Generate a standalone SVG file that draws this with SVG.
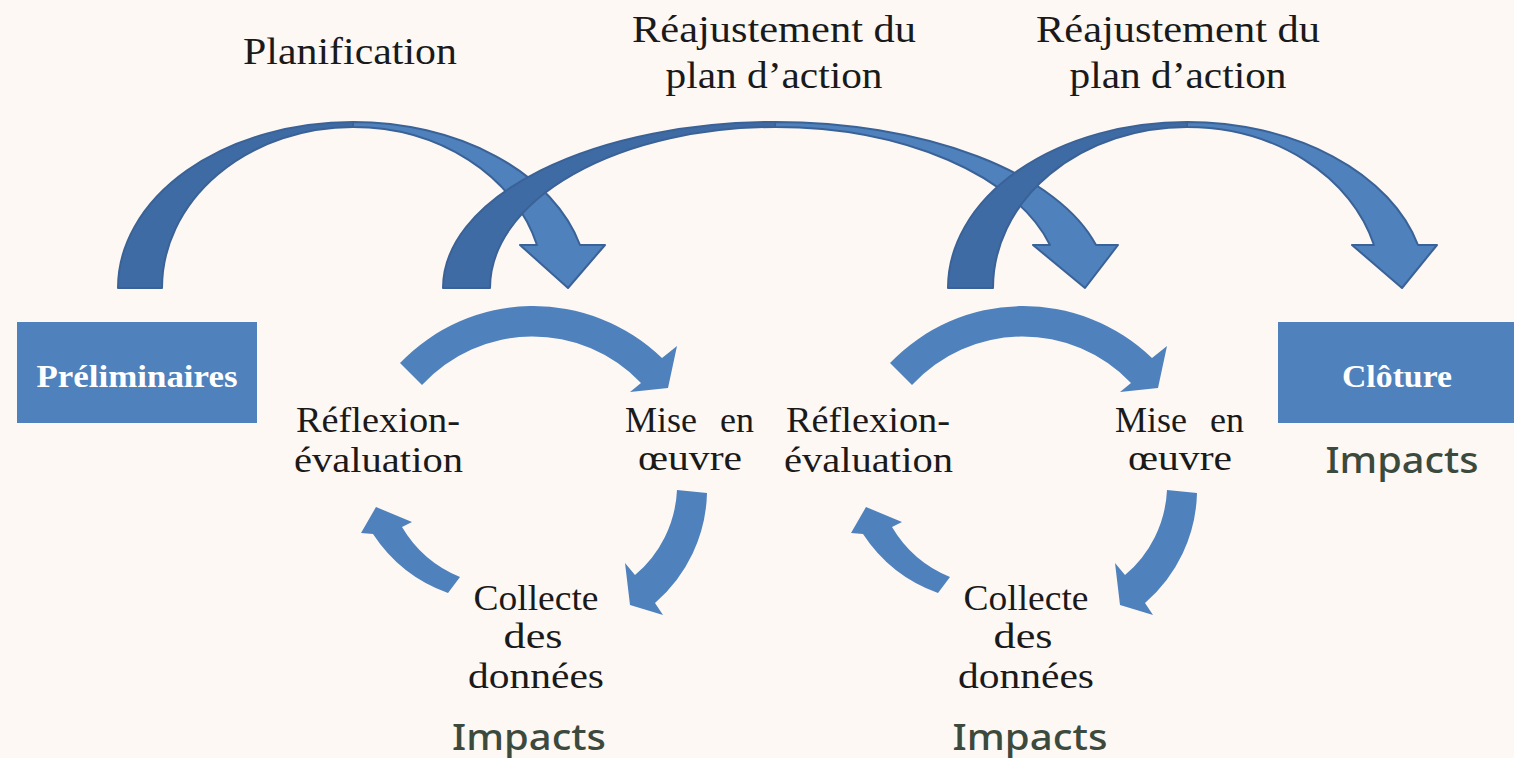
<svg xmlns="http://www.w3.org/2000/svg" width="1514" height="758" viewBox="0 0 1514 758">
<style>
.bg{fill:#fdf8f4}
.dark{fill:#3f6ba4;stroke:#3a6297;stroke-width:2;stroke-linejoin:round}
.light{fill:#4f81bd;stroke:#3a6297;stroke-width:2;stroke-linejoin:round}
.small{fill:#4f81bd}
.box{fill:#4f81bd}
.lbl{font-family:"Liberation Serif","Times New Roman",serif;font-size:38px;fill:#1a1a1a}
.cyc{font-family:"Liberation Serif","Times New Roman",serif;font-size:36px;fill:#1a1a1a}
.boxt{font-family:"Liberation Serif","Times New Roman",serif;font-size:31px;font-weight:bold;fill:#ffffff}
.imp{font-family:"Noto Sans","Open Sans",sans-serif;font-size:37px;font-weight:500;fill:#3c4a3e}
</style>
<rect class="bg" x="0" y="0" width="1514" height="758"/>

<g id="connectors">
  <g id="arrow-planification">
    <path class="light" d="M 353,122 A 235 166 0 0 1 580,245 L 605,245 L 568,288 L 520,245 L 537,245 A 191 161 0 0 0 353,127 Z"/>
    <path class="dark" d="M 118,288 A 235 166 0 0 1 353,122 L 353,127 A 191 161 0 0 0 162,288 Z"/>
  </g>
  <g id="arrow-reajust-1">
    <path class="light" d="M 775,122 A 332 166 0 0 1 1096,245 L 1118,245 L 1085,288 L 1033,245 L 1050,245 A 285 161 0 0 0 775,127 Z"/>
    <path class="dark" d="M 443,288 A 332 166 0 0 1 775,122 L 775,127 A 285 161 0 0 0 490,288 Z"/>
  </g>
  <g id="arrow-reajust-2">
    <path class="light" d="M 1187,122 A 239 166 0 0 1 1418,245 L 1437,245 L 1402,288 L 1352,245 L 1374,245 A 194 161 0 0 0 1187,127 Z"/>
    <path class="dark" d="M 948,288 A 239 166 0 0 1 1187,122 L 1187,127 A 194 161 0 0 0 993,288 Z"/>
  </g>
  <g id="cycle-1-arrows">
    <path class="small" d="M 400,363 A 185 185 0 0 1 662,358 L 677,346 L 668,388 L 630,392 L 641,383 A 150 150 0 0 0 422,385 Z"/>
    <path class="small" d="M 707,493 A 150 150 0 0 1 655,603 L 663,615 L 630,605 L 625,563 L 635,575 A 118 118 0 0 0 677,490 Z"/>
    <path class="small" d="M 448,593 A 150 150 0 0 1 373,534 L 361,533 L 376,507 L 412,522 L 402,527 A 120 120 0 0 0 460,577 Z"/>
  </g>
  <g id="cycle-2-arrows" transform="translate(490,0)">
    <path class="small" d="M 400,363 A 185 185 0 0 1 662,358 L 677,346 L 668,388 L 630,392 L 641,383 A 150 150 0 0 0 422,385 Z"/>
    <path class="small" d="M 707,493 A 150 150 0 0 1 655,603 L 663,615 L 630,605 L 625,563 L 635,575 A 118 118 0 0 0 677,490 Z"/>
    <path class="small" d="M 448,593 A 150 150 0 0 1 373,534 L 361,533 L 376,507 L 412,522 L 402,527 A 120 120 0 0 0 460,577 Z"/>
  </g>
</g>

<g id="label-planification">
  <text class="lbl" x="350" y="64" text-anchor="middle" textLength="214" lengthAdjust="spacingAndGlyphs">Planification</text>
</g>
<g id="label-reajust-1">
  <text class="lbl" x="774" y="42" text-anchor="middle" textLength="284" lengthAdjust="spacingAndGlyphs">Réajustement du</text>
  <text class="lbl" x="774" y="88" text-anchor="middle" textLength="217" lengthAdjust="spacingAndGlyphs">plan d’action</text>
</g>
<g id="label-reajust-2">
  <text class="lbl" x="1178" y="42" text-anchor="middle" textLength="284" lengthAdjust="spacingAndGlyphs">Réajustement du</text>
  <text class="lbl" x="1178" y="88" text-anchor="middle" textLength="217" lengthAdjust="spacingAndGlyphs">plan d’action</text>
</g>

<g id="node-preliminaires">
  <rect class="box" x="17" y="322" width="240" height="101"/>
  <text class="boxt" x="137" y="387" text-anchor="middle" textLength="201" lengthAdjust="spacingAndGlyphs">Préliminaires</text>
</g>
<g id="node-cloture">
  <rect class="box" x="1278" y="322" width="236" height="101"/>
  <text class="boxt" x="1397" y="387" text-anchor="middle" textLength="110" lengthAdjust="spacingAndGlyphs">Clôture</text>
  <text class="imp" x="1402" y="473" text-anchor="middle" textLength="153" lengthAdjust="spacingAndGlyphs">Impacts</text>
</g>

<g id="node-reflexion-1">
  <text class="cyc" x="296" y="432" textLength="164" lengthAdjust="spacingAndGlyphs">Réflexion-</text>
  <text class="cyc" x="294" y="472" textLength="169" lengthAdjust="spacingAndGlyphs">évaluation</text>
</g>
<g id="node-mise-1">
  <text class="cyc" x="625" y="432" word-spacing="14">Mise en</text>
  <text class="cyc" x="690" y="470" text-anchor="middle" textLength="104" lengthAdjust="spacingAndGlyphs">œuvre</text>
</g>
<g id="node-collecte-1">
  <text class="cyc" x="536" y="610" text-anchor="middle" textLength="125" lengthAdjust="spacingAndGlyphs">Collecte</text>
  <text class="cyc" x="533" y="648" text-anchor="middle" textLength="59" lengthAdjust="spacingAndGlyphs">des</text>
  <text class="cyc" x="536" y="688" text-anchor="middle" textLength="136" lengthAdjust="spacingAndGlyphs">données</text>
  <text class="imp" x="529" y="750" text-anchor="middle" textLength="154" lengthAdjust="spacingAndGlyphs">Impacts</text>
</g>

<g id="node-reflexion-2">
  <text class="cyc" x="786" y="432" textLength="164" lengthAdjust="spacingAndGlyphs">Réflexion-</text>
  <text class="cyc" x="784" y="472" textLength="169" lengthAdjust="spacingAndGlyphs">évaluation</text>
</g>
<g id="node-mise-2">
  <text class="cyc" x="1115" y="432" word-spacing="14">Mise en</text>
  <text class="cyc" x="1180" y="470" text-anchor="middle" textLength="104" lengthAdjust="spacingAndGlyphs">œuvre</text>
</g>
<g id="node-collecte-2">
  <text class="cyc" x="1026" y="610" text-anchor="middle" textLength="125" lengthAdjust="spacingAndGlyphs">Collecte</text>
  <text class="cyc" x="1023" y="648" text-anchor="middle" textLength="59" lengthAdjust="spacingAndGlyphs">des</text>
  <text class="cyc" x="1026" y="688" text-anchor="middle" textLength="136" lengthAdjust="spacingAndGlyphs">données</text>
  <text class="imp" x="1030" y="750" text-anchor="middle" textLength="155" lengthAdjust="spacingAndGlyphs">Impacts</text>
</g>
</svg>
